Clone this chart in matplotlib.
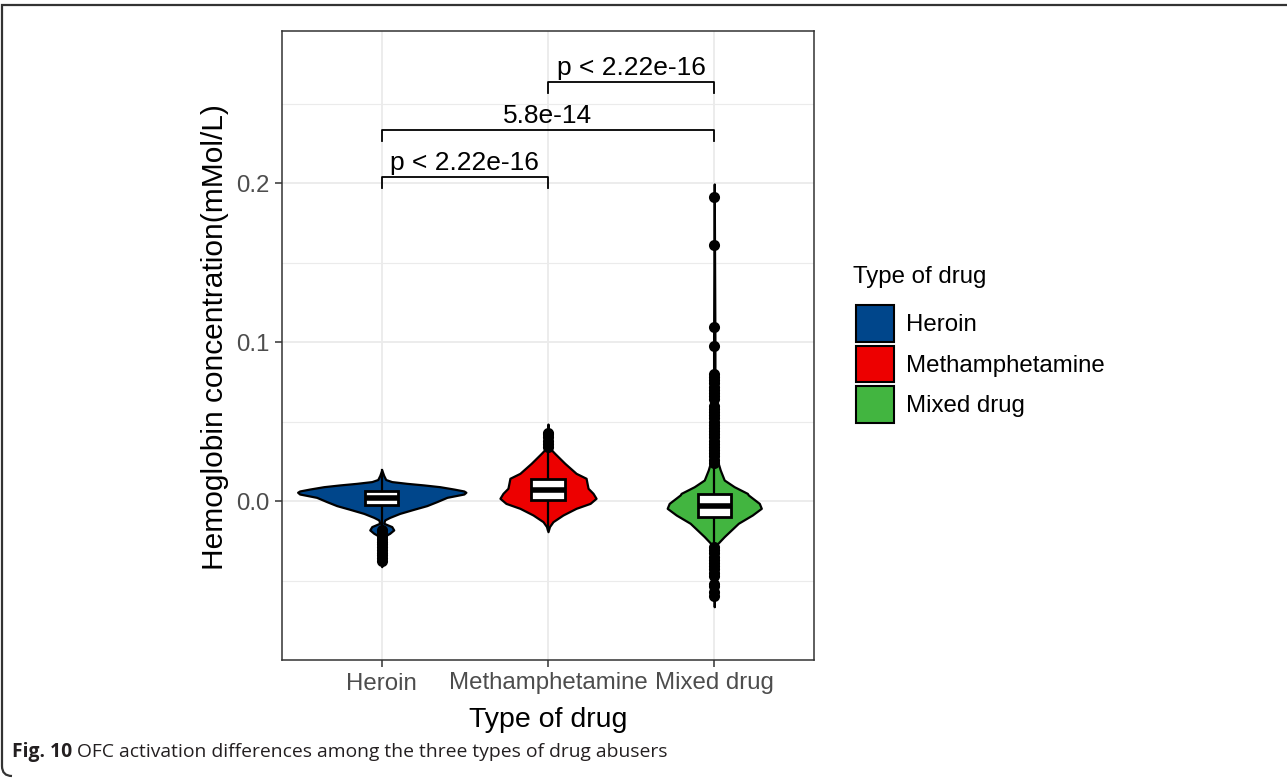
import numpy as np
import matplotlib.pyplot as plt
from matplotlib.patches import Patch, PathPatch
from matplotlib.path import Path

plt.rcParams['font.family'] = ['Liberation Sans', 'DejaVu Sans']

drugs = ['Heroin', 'Methamphetamine', 'Mixed drug']
colors = ['#00468B', '#ED0000', '#42B540']

# violin outlines: y value and half width (in x-category units)
heroin_y = [0.0195, 0.0160, 0.0135, 0.0122, 0.0111, 0.0101, 0.0090, 0.0075, 0.0063, 0.0055,
            0.0044, 0.0023, -0.0004, -0.0029, -0.0052, -0.0078, -0.0103, -0.0119, -0.0140,
            -0.0161, -0.0182, -0.0203, -0.0224, -0.0300, -0.0413]
heroin_w = [0.000, 0.012, 0.024, 0.060, 0.151, 0.253, 0.349, 0.434, 0.494, 0.506,
            0.494, 0.392, 0.331, 0.271, 0.193, 0.108, 0.048, 0.018, 0.012,
            0.060, 0.072, 0.048, 0.012, 0.004, 0.000]

meth_y = [0.0484, 0.0436, 0.0384, 0.0331, 0.0300, 0.0237, 0.0174, 0.0143, 0.0111, 0.0080,
          0.0048, 0.0017, -0.0015, -0.0046, -0.0088, -0.0130, -0.0161, -0.0193]
meth_w = [0.000, 0.004, 0.004, 0.012, 0.040, 0.101, 0.169, 0.229, 0.235, 0.241,
          0.271, 0.289, 0.253, 0.169, 0.090, 0.030, 0.009, 0.000]

mixed_y = [0.1994, 0.1000, 0.0500, 0.0300, 0.0237, 0.0195, 0.0132, 0.0090, 0.0048, 0.0038,
           -0.0015, -0.0046, -0.0088, -0.0140, -0.0224, -0.0277, -0.0450, -0.0665]
mixed_w = [0.000, 0.004, 0.004, 0.009, 0.024, 0.036, 0.060, 0.120, 0.199, 0.205,
           0.271, 0.283, 0.229, 0.145, 0.060, 0.012, 0.004, 0.000]

violin_y = [heroin_y, meth_y, mixed_y]
violin_w = [heroin_w, meth_w, mixed_w]

# box stats: lower whisker, q1, median, q3, upper whisker
box_lo = [-0.0160, -0.0180, -0.0280]
box_q1 = [-0.0025, 0.0006, -0.0099]
box_med = [0.0019, 0.0071, -0.0031]
box_q3 = [0.0063, 0.0136, 0.0044]
box_hi = [0.0195, 0.0331, 0.0237]

heroin_out = [-0.018, -0.020, -0.022, -0.024, -0.026, -0.027, -0.029, -0.031, -0.033,
              -0.034, -0.036, -0.038]
meth_out = [0.034, 0.036, 0.038, 0.040, 0.042, 0.043]
mixed_out = [0.191, 0.161, 0.1095, 0.0975,
             0.080, 0.078, 0.076, 0.074, 0.072, 0.070, 0.068, 0.066, 0.064,
             0.060, 0.058, 0.056, 0.054, 0.052, 0.050, 0.048, 0.046, 0.044, 0.042,
             0.040, 0.038, 0.036, 0.034, 0.032, 0.030, 0.028, 0.026, 0.024,
             -0.029, -0.031, -0.033, -0.035, -0.037, -0.039, -0.041, -0.043, -0.045,
             -0.047, -0.052, -0.0535, -0.057, -0.060]
outliers = [heroin_out, meth_out, mixed_out]

# comparisons: (group a, group b, bracket height, label)
comp_a = [1, 1, 2]
comp_b = [2, 3, 3]
comp_y = [0.2038, 0.2333, 0.2635]
comp_lab = ['p < 2.22e-16', '5.8e-14', 'p < 2.22e-16']

W, H = 1287, 778
fig = plt.figure(figsize=(W / 100, H / 100), dpi=100)
ax = fig.add_axes([282 / W, (H - 660) / H, 532 / W, 629 / H])

xs = [1, 2, 3]
for i in range(3):
    y = np.array(violin_y[i])
    w = np.array(violin_w[i])
    ax.fill_betweenx(y, xs[i] - w, xs[i] + w, facecolor=colors[i], edgecolor='black',
                     linewidth=1.6, joinstyle='round', zorder=2)
    # whiskers
    ax.plot([xs[i], xs[i]], [box_lo[i], box_hi[i]], color='black', lw=1.6, zorder=3)
    # box
    bw = 0.1
    ax.add_patch(plt.Rectangle((xs[i] - bw, box_q1[i]), 2 * bw, box_q3[i] - box_q1[i],
                               facecolor='white', edgecolor='black', lw=2.0, zorder=4))
    ax.plot([xs[i] - bw, xs[i] + bw], [box_med[i]] * 2, color='black', lw=4, zorder=5,
            solid_capstyle='butt')
    ax.scatter([xs[i]] * len(outliers[i]), outliers[i], s=64, color='black',
               linewidths=0, zorder=6)

tick_h = 0.007
for a, b, yb, lab in zip(comp_a, comp_b, comp_y, comp_lab):
    ax.plot([a, a, b, b], [yb - tick_h, yb, yb, yb - tick_h], color='black', lw=1.3,
            zorder=3)
    ax.text((a + b) / 2, yb + 0.0012, lab, ha='center', va='bottom', fontsize=19,
            color='black')

ax.set_xlim(0.4, 3.6)
ax.set_ylim(-0.1, 0.2956)
ax.set_xticks(xs)
ax.set_xticklabels(drugs)
ax.set_yticks([0.0, 0.1, 0.2])
ax.set_yticklabels(['0.0', '0.1', '0.2'])
ax.set_yticks([-0.05, 0.05, 0.15, 0.25], minor=True)
ax.grid(True, which='major', color='#EBEBEB', lw=1.3, zorder=0)
ax.grid(True, which='minor', axis='y', color='#EBEBEB', lw=0.8, zorder=0)
ax.set_axisbelow(True)
ax.tick_params(axis='both', which='major', length=5, width=1.1, color='#333333',
               labelcolor='#4D4D4D', labelsize=17.3, pad=4)
ax.tick_params(axis='y', which='minor', length=0)
for sp in ax.spines.values():
    sp.set_color('#333333')
    sp.set_linewidth(1.1)

ax.set_xlabel('Type of drug', fontsize=20.5, labelpad=9)
ax.set_ylabel('Hemoglobin concentration(mMol/L)', fontsize=21.5)
ax.yaxis.set_label_coords(-0.099, 0.513)

# legend: title set apart so the gap above the keys can be set
fig.text(853 / W, 1 - 277 / H, 'Type of drug', fontsize=17.3, va='center', ha='left')
handles = [Patch(facecolor=c, edgecolor='black', linewidth=1.5) for c in colors]
fig.legend(handles, drugs, loc='upper left',
           bbox_to_anchor=(844 / W, 1 - 293 / H), frameon=False, fontsize=17.3,
           handlelength=1.58, handleheight=1.98, labelspacing=0.16,
           handletextpad=0.5, borderpad=0)

cap_font = ['Open Sans', 'DejaVu Sans']
fig_lab = fig.text(12 / W, 1 - 752 / H, 'Fig. 10', fontsize=13.85, fontweight='bold',
                   family=cap_font, va='center', ha='left', color='#231F20')
renderer = fig.canvas.get_renderer()
x_end = fig_lab.get_window_extent(renderer).x1
fig.text((x_end + 5) / W, 1 - 752 / H,
         'OFC activation differences among the three types of drug abusers',
         fontsize=13.85, family=cap_font, va='center', ha='left', color='#231F20')

# journal box edge: top rule plus left side with rounded bottom corner
verts = [(W, H - 5), (2, H - 5), (2, 12), (2, 2), (12, 2)]
codes = [Path.MOVETO, Path.LINETO, Path.LINETO, Path.CURVE3, Path.CURVE3]
edge = PathPatch(Path([(vx / W, vy / H) for vx, vy in verts], codes),
                 transform=fig.transFigure, facecolor='none', edgecolor='#333333',
                 lw=1.6)
fig.patches.append(edge)

fig.savefig('out.png', dpi=100)
